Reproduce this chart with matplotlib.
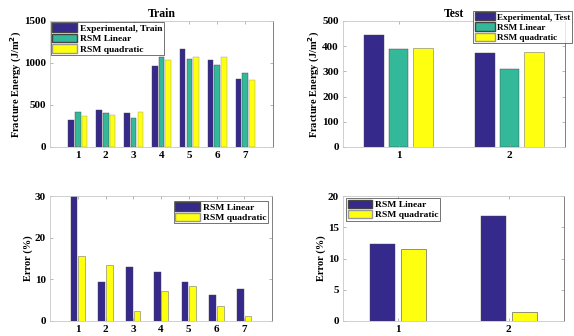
import matplotlib
matplotlib.use("Agg")
import matplotlib.pyplot as plt
import numpy as np
from matplotlib.patches import Patch

plt.rcParams['font.family'] = ['Liberation Serif', 'DejaVu Serif']
plt.rcParams['font.weight'] = 'bold'

train_cats = ['1', '2', '3', '4', '5', '6', '7']
train_exp = [325, 444, 405, 960, 1167, 1040, 813]
train_lin = [413, 405, 350, 1071, 1052, 980, 881]
train_quad = [365, 385, 413, 1036, 1067, 1075, 802]

test_cats = ['1', '2']
test_exp = [446, 374]
test_lin = [390, 310]
test_quad = [394, 378]

err_train_lin = [30.0, 9.3, 13.0, 11.8, 9.3, 6.3, 7.6]
err_train_quad = [15.7, 13.4, 2.4, 7.1, 8.3, 3.7, 1.2]
err_test_lin = [12.4, 16.85]
err_test_quad = [11.5, 1.5]

C_BLUE = '#35298C'
C_TEAL = '#33B89A'
C_YEL = '#FFFF10'

fig = plt.figure(figsize=(5.74, 3.36), dpi=100)
fs = 8

def style(ax):
    for s in ['top', 'left', 'bottom']:
        ax.spines[s].set_color('#c8c8c8')
        ax.spines[s].set_linewidth(0.6)
    ax.spines['right'].set_color('#808080')
    ax.spines['right'].set_linewidth(0.7)
    ax.tick_params(direction='in', length=2, width=0.5, color='#999999',
                   labelsize=fs, top=True, right=True, pad=3)
    for lab in ax.get_xticklabels() + ax.get_yticklabels():
        lab.set_fontweight('bold')

def leg(ax, handles, size=6.8, hl=2.6, **kw):
    l = ax.legend(handles=handles, frameon=True, fancybox=False,
                  borderpad=0.15, labelspacing=0.1, handlelength=hl, handleheight=1.0,
                  handletextpad=0.3, borderaxespad=0.1, prop={'weight': 'bold', 'size': size}, **kw)
    l.get_frame().set_edgecolor('#333333')
    l.get_frame().set_linewidth(0.6)
    return l

# Top-left: Train
ax1 = fig.add_axes([50/574, 1-147/336, 223/574, 126/336])
x = np.arange(1, len(train_cats)+1)
w = 0.2; sp = 0.24
ax1.bar(x-sp, train_exp, w, color=C_BLUE, edgecolor='#444444', linewidth=0.3)
ax1.bar(x, train_lin, w, color=C_TEAL, edgecolor='#444444', linewidth=0.3)
ax1.bar(x+sp, train_quad, w, color=C_YEL, edgecolor='#999999', linewidth=0.3)
ax1.set_xlim(0, 8); ax1.set_ylim(0, 1500)
ax1.set_xticks(x); ax1.set_xticklabels(train_cats)
ax1.set_yticks([0, 500, 1000, 1500])
ax1.set_title('Train', fontsize=8.5, fontweight='bold', pad=3)
ax1.set_ylabel('Fracture Energy (J/m$^\\mathbf{2}$)', fontsize=7.5, fontweight='bold', labelpad=0)
style(ax1)
leg(ax1, [Patch(facecolor=C_BLUE, edgecolor='#444'), Patch(facecolor=C_TEAL, edgecolor='#444'),
          Patch(facecolor=C_YEL, edgecolor='#999')],
    labels=['Experimental, Train', 'RSM Linear', 'RSM quadratic'], loc='upper left',
    bbox_to_anchor=(0.0, 1.0))

# Top-right: Test
ax2 = fig.add_axes([343/574, 1-147/336, 222/574, 126/336])
x2 = np.arange(1, len(test_cats)+1)
w2 = 0.18; sp2 = 0.22
ax2.bar(x2-sp2, test_exp, w2, color=C_BLUE, edgecolor='#444444', linewidth=0.3)
ax2.bar(x2, test_lin, w2, color=C_TEAL, edgecolor='#444444', linewidth=0.3)
ax2.bar(x2+sp2, test_quad, w2, color=C_YEL, edgecolor='#777777', linewidth=0.4)
ax2.set_xlim(0.5, 2.5); ax2.set_ylim(0, 500)
ax2.set_xticks(x2); ax2.set_xticklabels(test_cats)
ax2.set_yticks([0, 100, 200, 300, 400, 500])
ax2.set_title('Test', fontsize=8.5, fontweight='bold', pad=3)
ax2.set_ylabel('Fracture Energy (J/m$^\\mathbf{2}$)', fontsize=7.5, fontweight='bold', labelpad=0)
style(ax2)
leg(ax2, [Patch(facecolor=C_BLUE, edgecolor='#444'), Patch(facecolor=C_TEAL, edgecolor='#444'),
          Patch(facecolor=C_YEL, edgecolor='#999')],
    labels=['Experimental, Test', 'RSM Linear', 'RSM quadratic'], loc='upper right',
    size=6.6, hl=2.2,
    bbox_to_anchor=(573/574, 1-10/336), bbox_transform=fig.transFigure)

# Bottom-left: Error train
ax3 = fig.add_axes([50/574, 1-321/336, 222/574, 125/336])
w3 = 0.24; sp3 = 0.27
ax3.bar(x-sp3/2, err_train_lin, w3, color=C_BLUE, edgecolor='#444444', linewidth=0.3)
ax3.bar(x+sp3/2, err_train_quad, w3, color=C_YEL, edgecolor='#777777', linewidth=0.4)
ax3.set_xlim(0, 8); ax3.set_ylim(0, 30)
ax3.set_xticks(x); ax3.set_xticklabels(train_cats)
ax3.set_yticks([0, 10, 20, 30])
ax3.set_ylabel('Error (%)', fontsize=7.5, fontweight='bold', labelpad=1)
style(ax3)
leg(ax3, [Patch(facecolor=C_BLUE, edgecolor='#444'), Patch(facecolor=C_YEL, edgecolor='#999')],
    labels=['RSM Linear', 'RSM quadratic'], loc='upper right', bbox_to_anchor=(0.985, 0.97))

# Bottom-right: Error test
ax4 = fig.add_axes([343/574, 1-321/336, 221/574, 125/336])
w4 = 0.225; sp4 = 0.28
ax4.bar(x2-sp4/2, err_test_lin, w4, color=C_BLUE, edgecolor='#444444', linewidth=0.3)
ax4.bar(x2+sp4/2, err_test_quad, w4, color=C_YEL, edgecolor='#666666', linewidth=0.5)
ax4.set_xlim(0.5, 2.5); ax4.set_ylim(0, 20)
ax4.set_xticks(x2); ax4.set_xticklabels(test_cats)
ax4.set_yticks([0, 5, 10, 15, 20])
ax4.set_ylabel('Error (%)', fontsize=7.5, fontweight='bold', labelpad=1)
style(ax4)
leg(ax4, [Patch(facecolor=C_BLUE, edgecolor='#444'), Patch(facecolor=C_YEL, edgecolor='#999')],
    labels=['RSM Linear', 'RSM quadratic'], loc='upper left', bbox_to_anchor=(0.01, 0.99))

fig.savefig('out.png', dpi=100)
